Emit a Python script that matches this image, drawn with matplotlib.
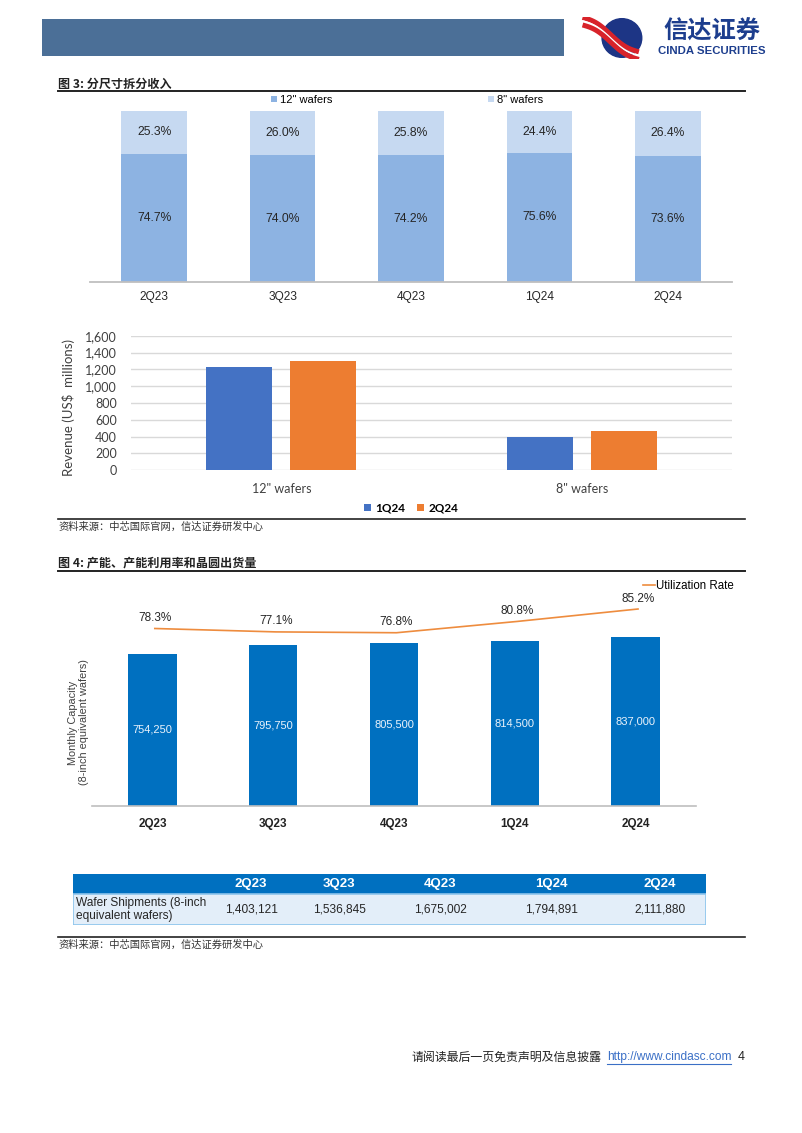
import numpy as np
import matplotlib.pyplot as plt
from matplotlib.patches import Rectangle, Ellipse
from matplotlib.lines import Line2D
from matplotlib.colors import LinearSegmentedColormap

plt.rcParams['font.family'] = ['Liberation Sans', 'DejaVu Sans']
CJK = ['Noto Sans CJK SC', 'DejaVu Sans']

# ---- data read from the page ----
quarters = ['2Q23', '3Q23', '4Q23', '1Q24', '2Q24']
share_12 = [74.7, 74.0, 74.2, 75.6, 73.6]
share_8 = [25.3, 26.0, 25.8, 24.4, 26.4]

rev_cats = ['12" wafers', '8" wafers']
rev_1q24 = [1230, 397]
rev_2q24 = [1300, 466]

capacity = [754250, 795750, 805500, 814500, 837000]
util = [78.3, 77.1, 76.8, 80.8, 85.2]
shipments = [1403121, 1536845, 1675002, 1794891, 2111880]

W, H = 802, 1133
fig = plt.figure(figsize=(W / 100, H / 100), dpi=100)


def px_axes(x0, y0, x1, y1):
    return fig.add_axes([x0 / W, 1 - y1 / H, (x1 - x0) / W, (y1 - y0) / H])


def ftxt(x, y, s, **kw):
    return fig.text(x / W, 1 - y / H, s, **kw)


def hline(x0, x1, y, lw=1.0, color='black'):
    fig.add_artist(Line2D([x0 / W, x1 / W], [1 - y / H] * 2, lw=lw, color=color))


# =========================
# page header + logo
# =========================
fig.add_artist(Rectangle((42 / W, 1 - 56 / H), (564 - 42) / W, 37 / H,
                         transform=fig.transFigure, color='#4b6f97', lw=0))

axl = px_axes(580, 17, 644, 59)
axl.set_xlim(0, 1)
axl.set_ylim(0, 1)
axl.axis('off')
ell = Ellipse((0.655, 0.5), 0.62, 0.92, color='#1d3585')
axl.add_patch(ell)
yy, xx = np.mgrid[1:0:100j, 0:1:100j]
grad = np.clip(np.hypot(xx - 0.55, yy - 0.7) * 1.6, 0, 1)
sphere_cm = LinearSegmentedColormap.from_list('sph', ['#6f8fd6', '#2a4aa6', '#14256e'])
im = axl.imshow(grad, extent=(0, 1, 0, 1), cmap=sphere_cm, aspect='auto')
im.set_clip_path(ell)
tt = np.linspace(0, 1, 80)
for off, col, lw in [(0.09, '#d8232a', 3.6), (0.0, 'white', 1.4), (-0.09, '#d8232a', 3.6)]:
    xs = 0.04 + 0.88 * tt
    ys = 0.9 - 0.82 * tt + 0.07 * np.sin(2 * np.pi * tt) + off
    axl.plot(xs, ys, color=col, lw=lw, solid_capstyle='butt')

ftxt(712, 32, '信达证券', family=CJK, fontsize=17.5, fontweight='bold',
     color='#1d3e8e', ha='center', va='center')
ftxt(712, 51, 'CINDA SECURITIES', fontsize=8.2, fontweight='bold',
     color='#1d3e8e', ha='center', va='center')

# =========================
# figure 3 : revenue split by wafer size
# =========================
ftxt(58, 84, '图 3: 分尺寸拆分收入', family=CJK, fontsize=8.7, fontweight='bold',
     color='#222222', va='center')
hline(58, 745, 91, lw=1.4, color='#222222')

ax1 = px_axes(90, 110.7, 732, 282.3)
x = np.arange(len(quarters))
ax1.bar(x, share_12, 0.51, color='#8db3e2', label='12" wafers')
ax1.bar(x, share_8, 0.51, bottom=share_12, color='#c6d9f1', label='8" wafers')
for i in range(len(quarters)):
    ax1.text(i, share_12[i] / 2, f'{share_12[i]:.1f}%', ha='center', va='center',
             fontsize=8.7, color='#262626')
    ax1.text(i, share_12[i] + share_8[i] / 2, f'{share_8[i]:.1f}%', ha='center',
             va='center', fontsize=8.7, color='#262626')
ax1.set_xlim(-0.5, len(quarters) - 0.5)
ax1.set_ylim(0, 100)
ax1.set_yticks([])
ax1.set_xticks(x, quarters, fontsize=8.6, color='#262626')
ax1.tick_params(axis='x', length=0, pad=6)
for s in ['top', 'left', 'right']:
    ax1.spines[s].set_visible(False)
ax1.spines['bottom'].set_color('#bfbfbf')
ax1.spines['bottom'].set_linewidth(1.3)
ax1.legend(loc='center', bbox_to_anchor=(407 / W, 1 - 100 / H),
           bbox_transform=fig.transFigure, ncol=2, frameon=False, fontsize=8,
           handlelength=0.55, handleheight=0.55, handletextpad=0.3,
           columnspacing=14.0, borderpad=0)

# revenue bars
ax2 = px_axes(131, 335.7, 732, 470.3)
xr = np.arange(len(rev_cats))
ax2.bar(xr - 0.14, rev_1q24, 0.22, color='#4472c4', label='1Q24', zorder=3)
ax2.bar(xr + 0.14, rev_2q24, 0.22, color='#ed7d31', label='2Q24', zorder=3)
ax2.set_xlim(-0.5, 1.5)
ax2.set_ylim(0, 1600)
ax2.set_yticks(np.arange(0, 1601, 200))
ax2.set_yticklabels([f'{v:,}' for v in range(0, 1601, 200)], family='Lato',
                    fontsize=9, color='#404040')
ax2.set_xticks(xr, rev_cats, family='Lato', fontsize=9, color='#404040')
ax2.tick_params(length=0)
ax2.tick_params(axis='y', pad=10)
ax2.tick_params(axis='x', pad=9)
ax2.grid(axis='y', color='#d9d9d9', lw=1.0, zorder=0)
for s in ax2.spines.values():
    s.set_visible(False)
ax2.set_ylabel('Revenue (US$  millions)', family='Lato', fontsize=9.5, color='#404040')
ax2.yaxis.set_label_coords((75 - 131) / (732 - 131), 0.47)
ax2.legend(loc='center', bbox_to_anchor=(411 / W, 1 - 508 / H),
           bbox_transform=fig.transFigure, ncol=2, frameon=False,
           prop={'family': 'Lato', 'weight': 'bold', 'size': 8.5},
           handlelength=0.6, handleheight=0.6, handletextpad=0.35,
           columnspacing=1.0, borderpad=0)

hline(58, 745, 519, lw=1.2, color='#222222')
ftxt(58, 527, '资料来源：中芯国际官网，信达证券研发中心', family=CJK, fontsize=7.4,
     color='#333333', va='center')

# =========================
# figure 4 : capacity, utilization, shipments
# =========================
ftxt(58, 563, '图 4: 产能、产能利用率和晶圆出货量', family=CJK, fontsize=8.7,
     fontweight='bold', color='#222222', va='center')
hline(58, 745, 571, lw=1.4, color='#222222')

ax3 = px_axes(92, 580, 696, 806)
ax3.bar(x, capacity, 0.4, color='#0070c0', zorder=2)
for i, v in enumerate(capacity):
    ax3.text(i, v / 2, f'{v:,}', ha='center', va='center', fontsize=8,
             color='#eaf2fb')
ax3.set_xlim(-0.5, len(quarters) - 0.5)
ax3.set_ylim(0, 1119000)
ax3.set_yticks([])
ax3.set_xticks(x, quarters, fontsize=8.4, fontweight='bold', color='#222222')
ax3.tick_params(axis='x', length=0, pad=9)
for s in ['top', 'left', 'right']:
    ax3.spines[s].set_visible(False)
ax3.spines['bottom'].set_color('#bfbfbf')
ax3.spines['bottom'].set_linewidth(1.2)
ax3.set_ylabel('Monthly Capacity\n(8-inch equivalent wafers)', fontsize=7.8,
               color='#404040', linespacing=1.1)
ax3.yaxis.set_label_coords((89 - 92) / (696 - 92), 0.37)

ax3b = ax3.twinx()
ax3b.plot(x + 0.02, util, color='#ee8c3e', lw=1.2, label='Utilization Rate')
for i, v in enumerate(util):
    ax3b.annotate(f'{v:.1f}%', (x[i] + 0.02, v), xytext=(0, 7.5),
                  textcoords='offset points', ha='center', va='center',
                  fontsize=8.5, color='#262626')
ax3b.set_ylim(15.5, 95.46)
ax3b.set_yticks([])
for s in ax3b.spines.values():
    s.set_visible(False)
ax3b.legend(loc='center right', bbox_to_anchor=(740 / W, 1 - 586 / H),
            bbox_transform=fig.transFigure, frameon=False, fontsize=8.3,
            handlelength=1.1, handletextpad=0.1, borderpad=0)

# shipments table
axt = px_axes(73, 874, 706, 925)
axt.set_xlim(73, 706)
axt.set_ylim(925, 874)
axt.axis('off')
axt.add_patch(Rectangle((73, 874), 633, 19.5, color='#0070c0', lw=0))
axt.add_patch(Rectangle((73, 893.5), 633, 31.5, facecolor='#e3eef9',
                        edgecolor='#8cc4ec', lw=1.2))
col_x = [251, 339, 440, 551, 660]
for cx, q, v in zip(col_x, quarters, shipments):
    axt.text(cx, 884, q, ha='center', va='center', fontsize=9.5,
             fontweight='bold', color='white')
    axt.text(cx, 909.5, f'{v:,}', ha='center', va='center', fontsize=8.6,
             color='#262626')
axt.text(76, 909.5, 'Wafer Shipments (8-inch\nequivalent wafers)', ha='left',
         va='center', fontsize=8.6, color='#262626', linespacing=1.15)

hline(58, 745, 937, lw=1.2, color='#222222')
ftxt(58, 945, '资料来源：中芯国际官网，信达证券研发中心', family=CJK, fontsize=7.4,
     color='#333333', va='center')

# =========================
# footer
# =========================
ftxt(602, 1057, '请阅读最后一页免责声明及信息披露', family=CJK, fontsize=8.6,
     color='#222222', ha='right', va='center')
ftxt(607, 1057, 'http://www.cindasc.com', fontsize=8.6, color='#3a6fc6', va='center')
hline(607, 731, 1064, lw=0.8, color='#3a6fc6')
ftxt(738, 1057, '4', fontsize=9, color='#222222', va='center')

fig.savefig('out.png', dpi=100)
